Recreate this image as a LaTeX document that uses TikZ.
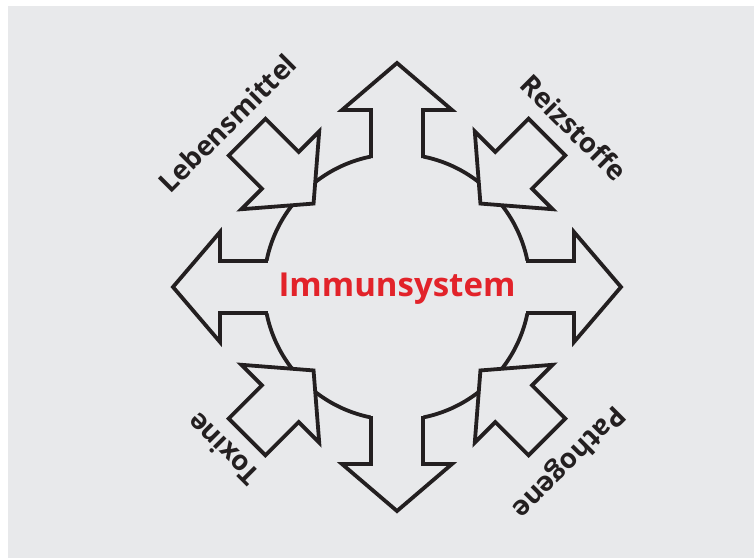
\documentclass[tikz,border=0pt]{standalone}
\usepackage{fontspec}
\setmainfont{Open Sans}
\usetikzlibrary{positioning}
\definecolor{fondo}{HTML}{E8E9EB}
\definecolor{rojo}{HTML}{E2232A}
\definecolor{trazo}{HTML}{231F20}

\begin{document}
\begin{tikzpicture}[x=1pt, y=1pt, line width=3.8pt, line join=miter,
    etiqueta/.style={font=\bfseries\fontsize{27.5}{30}\selectfont, text=trazo}]
  \useasboundingbox (-397,-271) rectangle (357,287);
  \fill[fondo] (-389,-271) rectangle (357,281);
  % anillo
  \draw[trazo] (0,0) circle (133);
  % flechas hacia fuera
  \foreach \a in {0,90,180,270} {
    \fill[fondo, rotate=\a] (110,-26) -- (177,-26) -- (177,-55) -- (224,0)
      -- (177,55) -- (177,26) -- (110,26) -- cycle;
    \draw[trazo, rotate=\a] (129,-26) -- (177,-26) -- (177,-55) -- (224,0)
      -- (177,55) -- (177,26) -- (129,26);
  }
  % flechas hacia dentro
  \foreach \a in {45,135,225,315}
    \draw[trazo, fill=fondo, rotate=\a] (118,0) -- (165,-55) -- (165,-26)
      -- (212,-26) -- (212,26) -- (165,26) -- (165,55) -- cycle;
  \node[font=\bfseries\fontsize{33}{36}\selectfont, text=rojo] (immun) at (0,-2) {Immunsystem};
  \node[etiqueta, rotate=45] (lebens) at (136:236) {Lebensmittel};
  \node[etiqueta, rotate=-45] (reiz) at (42:238) {Reizstoffe};
  \node[etiqueta, rotate=135] (toxine) at (223:238) {Toxine};
  \node[etiqueta, rotate=225] (patho) at (314.5:244) {Pathogene};
\end{tikzpicture}
\end{document}
